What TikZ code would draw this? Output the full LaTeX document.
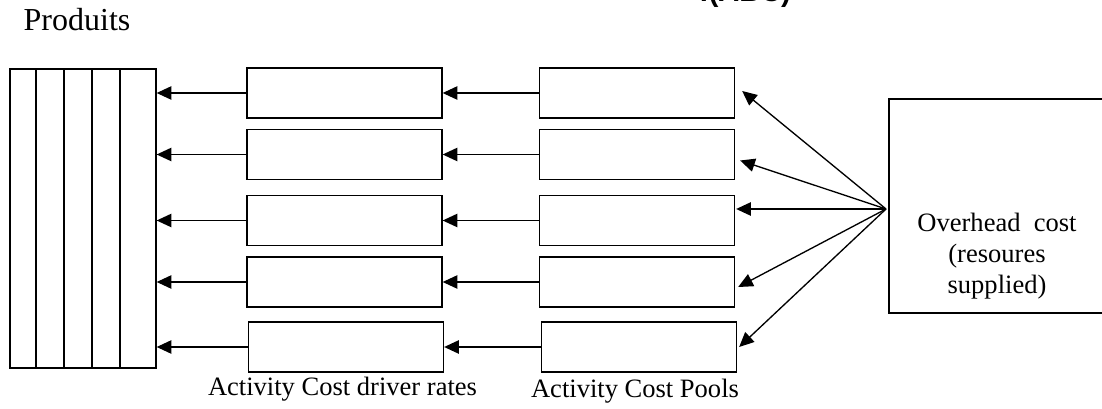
\documentclass[tikz,border=0pt]{standalone}
\usepackage{fontspec}
\setmainfont{Liberation Serif}
\newfontfamily\titlefont{Liberation Sans}
\usetikzlibrary{arrows.meta}
\begin{document}
\begin{tikzpicture}[x=0.75pt,y=-0.75pt,
  line width=1pt,
  box/.style={draw,rectangle,inner sep=0pt,minimum width=146.25pt,minimum height=37.5pt},
  arr/.style={-{Triangle[length=11pt,width=10pt]}},
  lbl/.style={font=\fontsize{19.9}{23.25}\selectfont,inner sep=0pt}]
\useasboundingbox (0,0) rectangle (1102,409);
\clip (0,0) rectangle (1102,409);
% title (cut off at top)
\node[anchor=base,inner sep=0pt,font=\titlefont\bfseries\fontsize{21.75}{26}\selectfont] (title) at (745,1.5) {:(ABC)};
\node[anchor=base west,inner sep=0pt,font=\fontsize{24}{28}\selectfont] (prodlbl) at (23,31) {Produits};
% products
\node[draw,rectangle,inner sep=0pt,minimum width=109.5pt,minimum height=224.25pt] (prod) at (83,218.5) {};
\foreach \cx in {36,64,92,120} \draw (\cx,69) -- (\cx,368);
% driver rate boxes
\node[box] (r1) at (344.5,93) {};
\node[box] (r2) at (344.5,154.5) {};
\node[box] (r3) at (344.5,220.5) {};
\node[box] (r4) at (344.5,282) {};
\node[box] (r5) at (346,347) {};
% cost pool boxes
\node[box] (p1) at (637,93) {};
\node[box] (p2) at (637,154.5) {};
\node[box] (p3) at (637,220.5) {};
\node[box] (p4) at (637,282) {};
\node[box] (p5) at (639,347) {};
% overhead
\node[draw,rectangle,inner sep=0pt,minimum width=165.75pt,minimum height=160.5pt] (oh) at (999.5,206) {};
\node[lbl,align=center] (ohlbl) at (997,256) {Overhead\ \ cost\\(resoures\\supplied)};
\coordinate (fan) at (886,209);
% labels
\node[lbl,anchor=base] (rlbl) at (342.5,395) {Activity Cost driver rates};
\node[lbl,anchor=base] (plbl) at (635,397) {Activity Cost Pools};
% arrows rates -> products
\foreach \i in {1,...,5} {
  \draw[arr] (r\i.west) -- (prod.east |- r\i.west);
  \draw[arr] (p\i.west) -- (r\i.east |- p\i.west);
}
% fan arrows
\draw[arr] (fan) -- ([shift={(7,-2)}]p1.east);
\draw[arr] (fan) -- ([shift={(5,6)}]p2.east);
\draw[arr] (fan) -- ([shift={(1,-11.5)}]p3.east);
\draw[arr] (fan) -- ([shift={(3,5)}]p4.east);
\draw[arr] (fan) -- ([shift={(2,0)}]p5.east);
\end{tikzpicture}
\end{document}
